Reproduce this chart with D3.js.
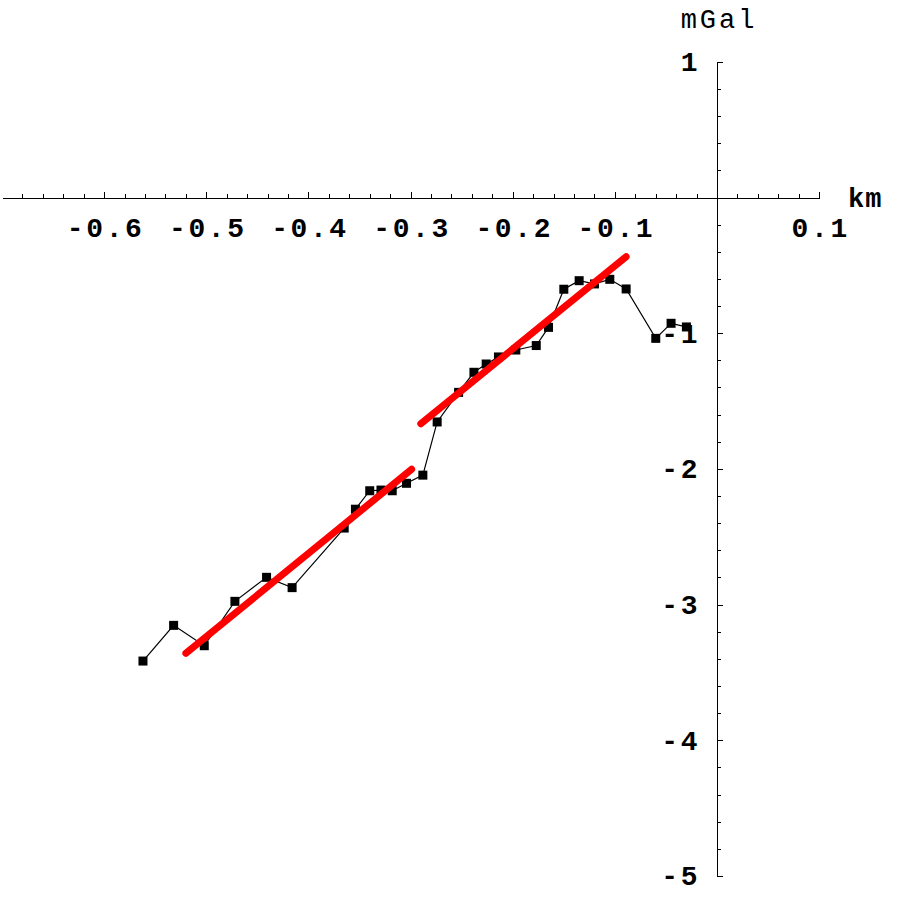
<!DOCTYPE html>
<html>
<head>
<meta charset="utf-8">
<script src="https://cdn.jsdelivr.net/npm/d3@7"></script>
<style>
  body { margin: 0; background: #fff; }
  .tick text { font-family: "Liberation Mono", "Courier New", monospace; font-weight: bold; font-size: 28px; letter-spacing: 2.6px; fill: #000; }
  .domain, .tick line { stroke: #000; stroke-width: 1px; shape-rendering: crispEdges; }
</style>
</head>
<body>
<div id="chart"></div>
<script>
// profile data (km, mGal)
var distKm = [-0.562, -0.532, -0.502, -0.472, -0.441, -0.416, -0.365, -0.354, -0.340, -0.329,
  -0.318, -0.304, -0.288, -0.274, -0.253, -0.238, -0.226, -0.214, -0.197, -0.177,
  -0.165, -0.150, -0.135, -0.120, -0.105, -0.089, -0.060, -0.045, -0.030];
var gravMgal = [-3.416, -3.153, -3.303, -2.976, -2.799, -2.875, -2.436, -2.297, -2.161, -2.156,
  -2.161, -2.106, -2.046, -1.654, -1.436, -1.288, -1.227, -1.175, -1.124, -1.091,
  -0.957, -0.676, -0.613, -0.637, -0.603, -0.674, -1.038, -0.927, -0.954];

// the two fitted straight segments
var fit1X = [-0.520, -0.299];
var fit1Y = [-3.359, -2.003];
var fit2X = [-0.290, -0.089];
var fit2Y = [-1.667, -0.436];

var xMajor = [-0.6, -0.5, -0.4, -0.3, -0.2, -0.1, 0.1];
var yMajor = [1, -1, -2, -3, -4, -5];

var svgWidth = 900;
var svgHeight = 900;

var svg = d3.select("#chart")
  .append("svg")
  .attr("width", svgWidth)
  .attr("height", svgHeight);

var x = d3.scaleLinear().domain([-0.7, 0.1]).range([2, 819.2]);
var y = d3.scaleLinear().domain([-5, 1]).range([876, 61.8]);

// minor ticks every 0.02 km and 0.2 mGal
var xMinor = d3.range(-34, 5).map(i => i / 50).filter(v => Math.abs(v * 10 - Math.round(v * 10)) > 1e-6);
var yMinor = d3.range(-25, 6).map(i => i / 5).filter(v => Math.abs(v - Math.round(v)) > 1e-6);

var fmt = d => String(d);

// x axis (ticks above, labels below)
svg.append("g")
  .attr("transform", `translate(0, ${y(0)})`)
  .call(d3.axisBottom(x).tickValues(xMinor).tickSizeInner(-3.5).tickSizeOuter(0).tickFormat(""));

var xAxis = svg.append("g")
  .attr("transform", `translate(0, ${y(0)})`)
  .call(d3.axisBottom(x).tickValues(xMajor).tickSizeInner(-6).tickSizeOuter(0).tickPadding(20).tickFormat(fmt));
xAxis.selectAll(".tick text").attr("dx", "1px");

// y axis (ticks to the right, labels left)
svg.append("g")
  .attr("transform", `translate(${x(0)}, 0)`)
  .call(d3.axisLeft(y).tickValues(yMinor).tickSizeInner(-3.5).tickSizeOuter(0).tickFormat(""));

var yAxis = svg.append("g")
  .attr("transform", `translate(${x(0)}, 0)`)
  .call(d3.axisLeft(y).tickValues(yMajor).tickSizeInner(-6).tickSizeOuter(0).tickPadding(17).tickFormat(fmt));

// axis units
svg.append("text")
  .attr("x", x(0) + 2)
  .attr("y", 28)
  .attr("text-anchor", "middle")
  .style("font-family", "'Liberation Mono', 'Courier New', monospace")
  .style("font-size", "27px")
  .style("letter-spacing", "3px")
  .text("mGal");

svg.append("text")
  .attr("x", 848)
  .attr("y", 207)
  .style("font-family", "'Liberation Mono', 'Courier New', monospace")
  .style("font-weight", "bold")
  .style("font-size", "27px")
  .style("letter-spacing", "1px")
  .text("km");

// measured profile
var pts = distKm.map((d, i) => [d, gravMgal[i]]);

svg.append("path")
  .datum(pts)
  .attr("fill", "none")
  .attr("stroke", "#000")
  .attr("stroke-width", 1.2)
  .attr("d", d3.line().x(d => x(d[0])).y(d => y(d[1])));

svg.selectAll("rect.pt")
  .data(pts)
  .enter()
  .append("rect")
  .attr("class", "pt")
  .attr("x", d => x(d[0]) - 4.5)
  .attr("y", d => y(d[1]) - 4.5)
  .attr("width", 9)
  .attr("height", 9)
  .attr("fill", "#000");

// fitted lines
[[fit1X, fit1Y], [fit2X, fit2Y]].forEach(function(f) {
  svg.append("line")
    .attr("x1", x(f[0][0]))
    .attr("y1", y(f[1][0]))
    .attr("x2", x(f[0][1]))
    .attr("y2", y(f[1][1]))
    .attr("stroke", "#ff0000")
    .attr("stroke-width", 7)
    .attr("stroke-linecap", "round");
});
</script>
</body>
</html>
